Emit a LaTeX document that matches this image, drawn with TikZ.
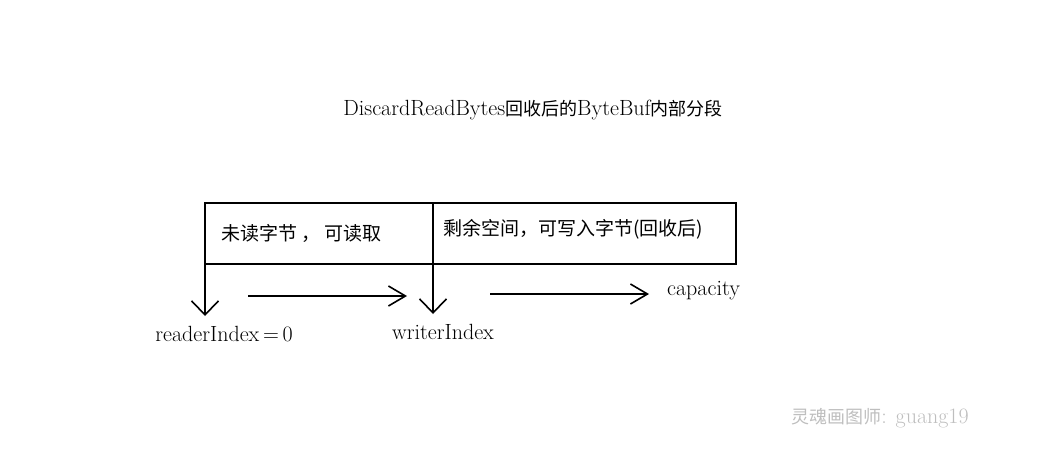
\documentclass[tikz,border=0pt]{standalone}
\usepackage{fontspec}
\newfontfamily\cjk{Noto Sans CJK SC}
\usetikzlibrary{arrows.meta}
\definecolor{markgray}{RGB}{190,190,190}

\begin{document}
\begin{tikzpicture}[
    x=1pt, y=-1pt,
    cell/.style={draw,line width=1.6pt,rectangle,inner sep=0pt,outer sep=0pt,minimum height=61pt,anchor=north west},
    down arrow/.style={line width=1.6pt,-{Straight Barb[length=14pt,width=27pt,line width=1.6pt]}},
    step arrow/.style={line width=1.6pt,-{Straight Barb[length=17pt,width=20pt,line width=1.6pt]}},
    lbl/.style={font=\fontsize{22}{26}\selectfont,inner sep=0pt},
    cjklbl/.style={font=\fontsize{19}{23}\selectfont\cjk,inner sep=0pt,anchor=west}
]
\useasboundingbox (0,0) rectangle (1043,467);

\node[lbl] (title) at (533,110) {DiscardReadBytes{\cjk\fontsize{18}{22}\selectfont 回收后的}ByteBuf{\cjk\fontsize{18}{22}\selectfont 内部分段}};

\node[cell,minimum width=228pt] (readcell) at (205,203) {};
\node[cell,minimum width=303pt] (writecell) at (433,203) {};

\node[cjklbl] (readtxt) at (221,233) {未读字节 ， 可读取};
\node[cjklbl] (writetxt) at (443,229) {剩余空间，可写入字节(回收后)};

\coordinate (rtip) at (205,316);
\coordinate (wtip) at (433,314);
\draw[down arrow] (readcell.south west) -- (rtip);
\draw[down arrow] (readcell.south east) -- (wtip);

\coordinate (a1) at (248,296);
\coordinate (b1) at (407,296);
\coordinate (a2) at (490,294);
\coordinate (b2) at (649,294);
\draw[step arrow] (a1) -- (b1);
\draw[step arrow] (a2) -- (b2);

\node[lbl] (reader) at (224,334) {readerIndex\,=\,0};
\node[lbl] (writer) at (443,332) {writerIndex};
\node[lbl,anchor=west] (cap) at (667,291) {capacity};

\node[lbl,text=markgray] (mark) at (880,418) {{\cjk\fontsize{18}{22}\selectfont 灵魂画图师}: guang19};

\end{tikzpicture}
\end{document}
